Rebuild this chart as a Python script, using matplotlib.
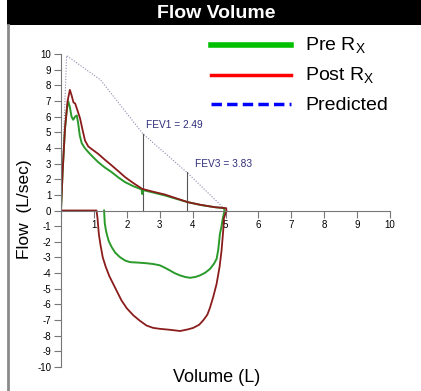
import matplotlib
matplotlib.use("Agg")
import matplotlib.pyplot as plt
from matplotlib.lines import Line2D
from matplotlib.patches import Rectangle

plt.rcParams['font.family'] = ['Liberation Sans', 'DejaVu Sans']
plt.rcParams['axes.unicode_minus'] = False

# Predicted curve (expiratory)
pred_vol = [0.0, 0.17, 1.2, 2.49, 3.83, 4.95]
pred_flow = [0.0, 9.9, 8.35, 4.9, 2.43, 0.15]

# Pre Rx loop: expiration then inspiration
pre_vol = [0.0, 0.05, 0.12, 0.18, 0.22, 0.27, 0.32, 0.37, 0.43, 0.48, 0.52, 0.57, 0.63, 0.72, 0.83,
           0.98, 1.13, 1.33, 1.54, 1.75, 1.95, 2.2, 2.45, 2.47, 2.5, 2.8, 3.16, 3.5, 3.86, 4.25,
           4.68, 4.95, 4.97,
           4.91, 4.88, 4.83, 4.78, 4.73, 4.65, 4.53, 4.38, 4.22, 4.08, 3.92, 3.78, 3.62, 3.45,
           3.31, 3.15, 3.0, 2.8, 2.6, 2.35, 2.1, 1.95, 1.79, 1.65, 1.54, 1.45, 1.39, 1.36, 1.33, 1.31]
pre_flow = [0.0, 2.5, 5.2, 6.5, 6.98, 6.6, 6.0, 5.8, 6.0, 6.07, 5.6, 4.8, 4.3, 4.0, 3.73,
            3.4, 3.09, 2.75, 2.45, 2.1, 1.81, 1.55, 1.35, 1.05, 1.30, 1.15, 0.96, 0.75, 0.53, 0.35,
            0.21, 0.15, 0.0,
            -0.6, -1.0, -1.5, -2.5, -3.09, -3.4, -3.73, -3.98, -4.15, -4.25, -4.3, -4.25, -4.15, -4.0,
            -3.83, -3.65, -3.5, -3.42, -3.37, -3.33, -3.3, -3.2, -2.98, -2.7, -2.34, -1.95, -1.5, -1.2,
            -0.8, 0.0]

# Post Rx loop: expiration, inspiration, then return along zero
post_vol = [0.0, 0.05, 0.12, 0.2, 0.27, 0.33, 0.38, 0.43, 0.5, 0.58, 0.65, 0.73, 0.83, 0.98, 1.13,
            1.33, 1.54, 1.75, 1.95, 2.2, 2.47, 2.8, 3.16, 3.5, 3.86, 4.25, 4.68, 5.02, 5.03,
            4.95, 4.93, 4.88, 4.82, 4.73, 4.63, 4.53, 4.45, 4.33, 4.2, 4.02, 3.85, 3.62, 3.3, 3.0,
            2.8, 2.6, 2.4, 2.2, 2.0, 1.84, 1.72, 1.59, 1.47, 1.36, 1.27, 1.2, 1.15, 1.11, 1.08,
            0.0]
post_flow = [0.0, 2.5, 5.2, 7.0, 7.71, 7.3, 6.9, 6.84, 6.4, 5.88, 5.2, 4.47, 4.09, 3.85, 3.62,
             3.25, 2.88, 2.5, 2.13, 1.75, 1.38, 1.2, 1.02, 0.78, 0.53, 0.36, 0.21, 0.15, 0.0,
             -0.5, -1.3, -2.56, -3.6, -4.68, -5.5, -6.2, -6.65, -7.0, -7.3, -7.5, -7.6, -7.7, -7.62,
             -7.56, -7.5, -7.35, -7.05, -6.7, -6.25, -5.75, -5.25, -4.7, -4.2, -3.6, -3.0, -2.2,
             -1.5, -0.5, 0.0,
             0.0]

fev_vol = [2.49, 3.83]
fev_top = [4.9, 2.43]
fev_labels = ['FEV1 = 2.49', 'FEV3 = 3.83']

x_ticks = list(range(0, 11))
x_ticklabels = [''] + [str(i) for i in range(1, 11)]
y_ticks = list(range(-10, 11))

fig = plt.figure(figsize=(4.21, 3.91), dpi=100)
fig.patch.set_facecolor('white')

# Title bar and frame
fig.add_artist(Rectangle((7/421, 1 - 25/391), 1 - 7/421, 25/391, transform=fig.transFigure,
                         facecolor='black', edgecolor='none'))
fig.text(216/421, 1 - 13/391, 'Flow Volume', color='white', fontsize=14, fontweight='bold',
         ha='center', va='center')
fig.add_artist(Line2D([8/421, 8/421], [0, 1 - 25/391], transform=fig.transFigure,
                      color='#8a8a8a', lw=2))

ax = fig.add_axes([61/421, 1 - 367/391, (390 - 61)/421, (367 - 54)/391])
ax.set_xlim(0, 10)
ax.set_ylim(-10, 10)

ax.plot(pred_vol, pred_flow, color='#8a8ab0', lw=0.8, ls=(0, (1, 1.5)))
for v, t in zip(fev_vol, fev_top):
    ax.plot([v, v], [0, t], color='#555555', lw=0.8)
ax.plot(pre_vol, pre_flow, color='#2a9a2a', lw=1.4)
ax.plot(post_vol, post_flow, color='#8b1c1c', lw=1.3)

ax.text(2.58, 5.45, fev_labels[0], color='#2e2e7a', fontsize=7.3, ha='left', va='center')
ax.text(4.07, 2.95, fev_labels[1], color='#2e2e7a', fontsize=7.3, ha='left', va='center')

for s in ['top', 'right']:
    ax.spines[s].set_visible(False)
ax.spines['bottom'].set_position(('data', 0))
ax.spines['left'].set_color('#777777')
ax.spines['bottom'].set_color('#777777')
ax.set_xticks(x_ticks)
ax.set_xticklabels(x_ticklabels)
ax.set_yticks(y_ticks)
ax.set_yticklabels([str(v) for v in y_ticks])
ax.tick_params(axis='both', direction='out', length=5, width=0.8, color='#777777',
               labelsize=7, pad=2)
ax.patch.set_alpha(0)

fig.text(25/421, 1 - 209/391, 'Flow  (L/sec)', rotation=90, fontsize=12.5,
         ha='center', va='center')
fig.text(217/421, 1 - 377/391, 'Volume (L)', fontsize=13, ha='center', va='center')

# Legend
leg_items = [('#00c000', '-', 4, 'Pre R$_\\mathregular{X}$', 45),
             ('#ff0000', '-', 2.5, 'Post R$_\\mathregular{X}$', 75),
             ('#0000ff', (0, (3, 1.5)), 2.5, 'Predicted', 104)]
for col, ls, lw, lab, yy in leg_items:
    fig.add_artist(Line2D([211/421, 291/421], [1 - yy/391, 1 - yy/391], transform=fig.transFigure,
                          color=col, ls=ls, lw=lw))
    fig.text(305/421, 1 - (yy + 1)/391, lab, fontsize=14, ha='left', va='center')

fig.savefig('out.png', dpi=100)
